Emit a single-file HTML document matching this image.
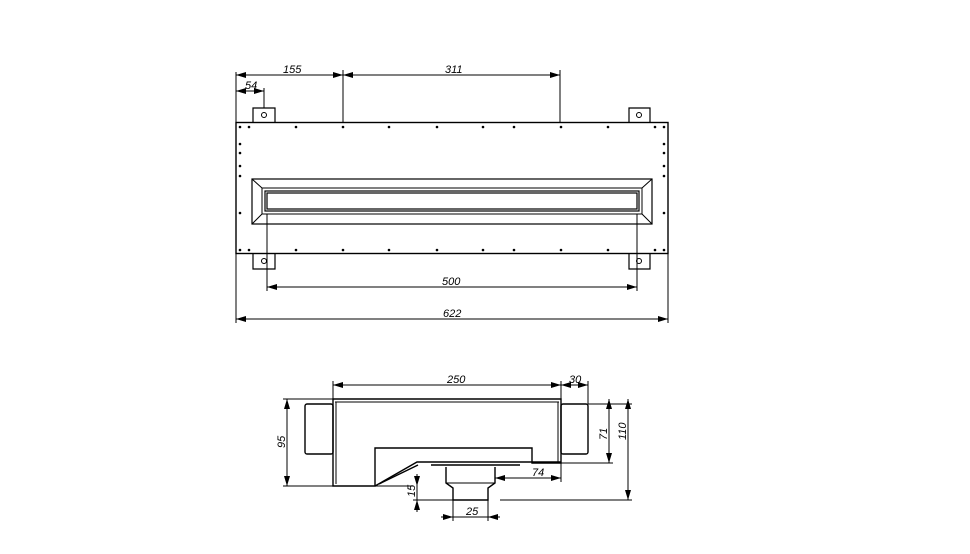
<!DOCTYPE html>
<html><head><meta charset="utf-8"><style>
html,body{margin:0;padding:0;background:#fff;}
svg{display:block;}
text{font-family:"Liberation Sans",sans-serif;font-size:11px;font-style:italic;fill:#000;}
</style></head><body>
<svg width="970" height="554" viewBox="0 0 970 554" xmlns="http://www.w3.org/2000/svg">
<defs>
<marker id="a" viewBox="0 0 10 6" refX="10" refY="3" markerWidth="10" markerHeight="6" orient="auto-start-reverse" markerUnits="userSpaceOnUse"><path d="M0,0 L10,3 L0,6 z" fill="#000"/></marker>
</defs>
<g fill="none" stroke="#000" stroke-width="1">
<!-- top view -->
<rect x="236" y="122.5" width="432" height="131" stroke-width="1.4"/>
<path d="M253,122 V108 H275 V122 M629,122 V108 H650 V122 M253,254 V269 H275 V254 M629,254 V269 H650 V254" stroke-width="1.2"/>
<circle cx="264" cy="115" r="2.5"/><circle cx="639" cy="115" r="2.5"/>
<circle cx="264" cy="261" r="2.5"/><circle cx="639" cy="261" r="2.5"/>
<rect x="252" y="179" width="400" height="45" stroke-width="1.2"/>
<rect x="262" y="188" width="380" height="26"/>
<rect x="265" y="191" width="374" height="20" stroke-width="1.2"/>
<rect x="267" y="193" width="370" height="16" stroke-width="1.2"/>
<path d="M252,179 L262,188 M652,179 L642,188 M252,224 L262,214 M652,224 L642,214"/>
<!-- dims top -->
<path d="M236,122 V72 M343,122 V70 M560,122 V70 M264,108 V88 M267,214 V291 M637,214 V291 M668,254 V323 M236,254 V323"/>
<line x1="236" y1="75" x2="343" y2="75" marker-start="url(#a)" marker-end="url(#a)"/>
<line x1="343" y1="75" x2="560" y2="75" marker-start="url(#a)" marker-end="url(#a)"/>
<line x1="236" y1="91" x2="264" y2="91" marker-start="url(#a)" marker-end="url(#a)"/>
<line x1="267" y1="287" x2="637" y2="287" marker-start="url(#a)" marker-end="url(#a)"/>
<line x1="236" y1="319" x2="668" y2="319" marker-start="url(#a)" marker-end="url(#a)"/>
<!-- bottom view -->
<g stroke-width="1.4">
<path d="M333,399 H561 V463 H532 V448 H375 V486 H333 Z"/>
<path d="M375,486 L417,462 H561"/>
<path d="M379,484 L418,465"/>
<rect x="305" y="404" width="28" height="50" rx="2"/>
<rect x="561" y="404" width="27" height="50" rx="2"/>
<path d="M446,467 V483 L453,488 V500 H488 V488 L495,483 V467"/>
<path d="M431,465 H520"/>
</g>
<path d="M335,402 H559 M336,402 V484 M558,402 V462"/>
<path d="M446,483 H495"/>
<!-- dims bottom -->
<path d="M333,399 V381 M561,399 V381 M588,404 V381 M283,399 H333 M283,486 H333 M588,404 H632 M561,463 H613 M500,500 H632 M561,463 V482 M495,483 V482 M413,486 H375 M413,500 H453 M453,500 V521 M488,500 V521"/>
<line x1="333" y1="385" x2="561" y2="385" marker-start="url(#a)" marker-end="url(#a)"/>
<line x1="561" y1="385" x2="588" y2="385" marker-start="url(#a)" marker-end="url(#a)"/>
<line x1="287" y1="399" x2="287" y2="486" marker-start="url(#a)" marker-end="url(#a)"/>
<line x1="609" y1="399" x2="609" y2="463" marker-start="url(#a)" marker-end="url(#a)"/>
<line x1="628" y1="399" x2="628" y2="500" marker-start="url(#a)" marker-end="url(#a)"/>
<line x1="495" y1="478" x2="561" y2="478" marker-start="url(#a)" marker-end="url(#a)"/>
<line x1="417" y1="474" x2="417" y2="486" marker-end="url(#a)"/>
<line x1="417" y1="512" x2="417" y2="500" marker-end="url(#a)"/>
<line x1="417" y1="486" x2="417" y2="500"/>
<line x1="441" y1="517" x2="453" y2="517" marker-end="url(#a)"/>
<line x1="500" y1="517" x2="488" y2="517" marker-end="url(#a)"/>
<line x1="453" y1="517" x2="488" y2="517"/>
</g>
<g fill="#000">
<circle cx="240" cy="127" r="1.3"/><circle cx="249" cy="127" r="1.3"/><circle cx="296" cy="127" r="1.3"/><circle cx="343" cy="127" r="1.3"/><circle cx="389" cy="127" r="1.3"/><circle cx="437" cy="127" r="1.3"/><circle cx="483" cy="127" r="1.3"/><circle cx="514" cy="127" r="1.3"/><circle cx="561" cy="127" r="1.3"/><circle cx="608" cy="127" r="1.3"/><circle cx="655" cy="127" r="1.3"/><circle cx="664" cy="127" r="1.3"/>
<circle cx="240" cy="250" r="1.3"/><circle cx="249" cy="250" r="1.3"/><circle cx="296" cy="250" r="1.3"/><circle cx="343" cy="250" r="1.3"/><circle cx="389" cy="250" r="1.3"/><circle cx="437" cy="250" r="1.3"/><circle cx="483" cy="250" r="1.3"/><circle cx="514" cy="250" r="1.3"/><circle cx="561" cy="250" r="1.3"/><circle cx="608" cy="250" r="1.3"/><circle cx="655" cy="250" r="1.3"/><circle cx="664" cy="250" r="1.3"/>
<circle cx="240" cy="144" r="1.3"/><circle cx="240" cy="153" r="1.3"/><circle cx="240" cy="166" r="1.3"/><circle cx="240" cy="176" r="1.3"/><circle cx="240" cy="213" r="1.3"/>
<circle cx="664" cy="144" r="1.3"/><circle cx="664" cy="153" r="1.3"/><circle cx="664" cy="166" r="1.3"/><circle cx="664" cy="176" r="1.3"/><circle cx="664" cy="213" r="1.3"/>
</g>
<text x="283" y="73">155</text>
<text x="445" y="73">311</text>
<text x="245" y="89">54</text>
<text x="442" y="285">500</text>
<text x="443" y="317">622</text>
<text x="447" y="383">250</text>
<text x="569" y="383">30</text>
<text x="532" y="476">74</text>
<text x="466" y="515">25</text>
<text transform="translate(285,448) rotate(-90)">95</text>
<text transform="translate(607,440) rotate(-90)">71</text>
<text transform="translate(626,440) rotate(-90)">110</text>
<text transform="translate(415,497) rotate(-90)">15</text>
</svg>
</body></html>
